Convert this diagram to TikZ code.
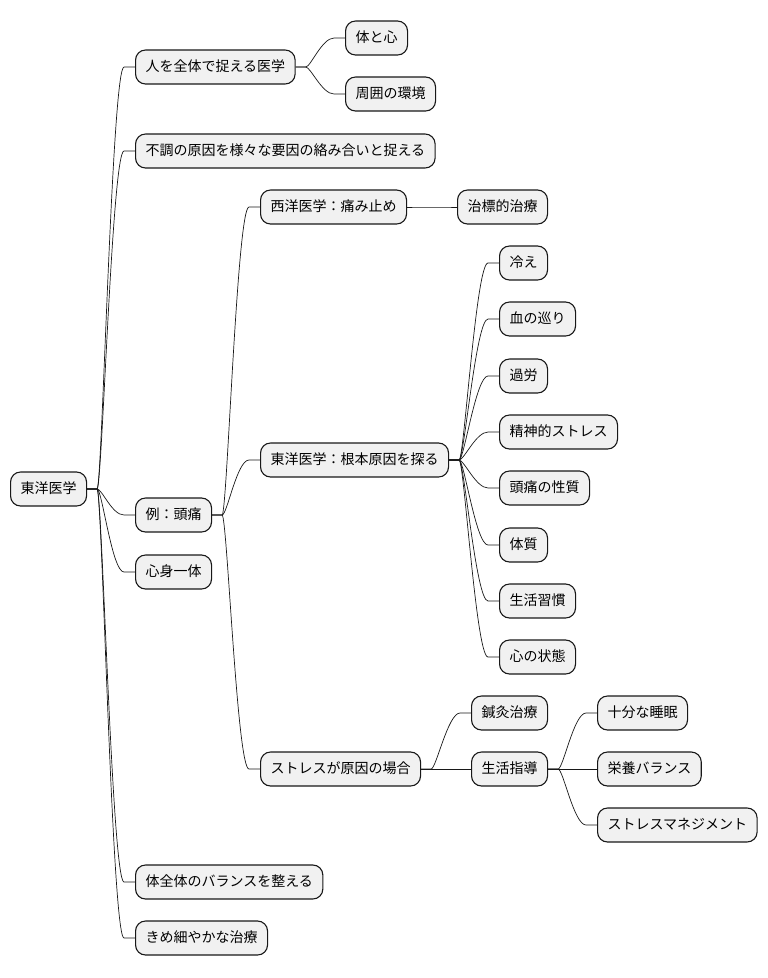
\documentclass[tikz,border=0pt]{standalone}
\usepackage{fontspec}
\setmainfont{Noto Sans CJK JP}
\usetikzlibrary{positioning}
\definecolor{mapFill}{RGB}{241, 241, 241}
\definecolor{mapLine}{RGB}{24, 24, 24}

\begin{document}
\begin{tikzpicture}[
  x=1pt,y=-1pt,
  topic/.style={
    draw=mapLine,
    fill=mapFill,
    line width=1.1pt,
    rounded corners=10pt,
    anchor=west,
    inner xsep=10pt,
    inner ysep=0pt,
    minimum height=34pt,
    text height=11pt,
    text depth=3pt,
    font=\fontsize{14pt}{16pt}\selectfont
  },
  link/.style={
    draw=mapLine,
    line width=0.7pt,
    to path={-- ++(10,0) .. controls +(5,0) and +(-12,0) .. ([xshift=-11pt]\tikztotarget) -- (\tikztotarget)}
  }
]
  \useasboundingbox (0,0) rectangle (768,978);
  % root
  \node[topic] (root) at (10,489) {東洋医学};
  % first level
  \node[topic] (holistic) at (135,67) {人を全体で捉える医学};
  \node[topic] (causes) at (135,151) {不調の原因を様々な要因の絡み合いと捉える};
  \node[topic] (headache) at (135,515) {例：頭痛};
  \node[topic] (unity) at (135,572) {心身一体};
  \node[topic] (balance) at (135,882) {体全体のバランスを整える};
  \node[topic] (finecare) at (135,938) {きめ細やかな治療};
  % second level
  \node[topic] (bodymind) at (345,38) {体と心};
  \node[topic] (surround) at (345,94) {周囲の環境};
  \node[topic] (western) at (260,207) {西洋医学：痛み止め};
  \node[topic] (eastern) at (260,460) {東洋医学：根本原因を探る};
  \node[topic] (stresscase) at (260,769) {ストレスが原因の場合};
  % third level
  \node[topic] (symptomatic) at (457,207) {治標的治療};
  \node[topic] (chill) at (499,263) {冷え};
  \node[topic] (blood) at (499,319) {血の巡り};
  \node[topic] (fatigue) at (499,376) {過労};
  \node[topic] (stress) at (499,432) {精神的ストレス};
  \node[topic] (nature) at (499,488) {頭痛の性質};
  \node[topic] (constitution) at (499,545) {体質};
  \node[topic] (habits) at (499,601) {生活習慣};
  \node[topic] (mood) at (499,657) {心の状態};
  \node[topic] (acupuncture) at (471,713) {鍼灸治療};
  \node[topic] (guidance) at (471,769) {生活指導};
  % fourth level
  \node[topic] (sleep) at (597,713) {十分な睡眠};
  \node[topic] (nutrition) at (597,769) {栄養バランス};
  \node[topic] (stressmgmt) at (597,825) {ストレスマネジメント};

  \foreach \from/\to in {root/holistic, root/causes, root/headache, root/unity,
      root/balance, root/finecare, holistic/bodymind, holistic/surround,
      headache/western, headache/eastern, headache/stresscase,
      western/symptomatic, eastern/chill, eastern/blood, eastern/fatigue,
      eastern/stress, eastern/nature, eastern/constitution, eastern/habits,
      eastern/mood, stresscase/acupuncture, stresscase/guidance,
      guidance/sleep, guidance/nutrition, guidance/stressmgmt}
    \draw[link] (\from.east) to (\to.west);
\end{tikzpicture}
\end{document}
